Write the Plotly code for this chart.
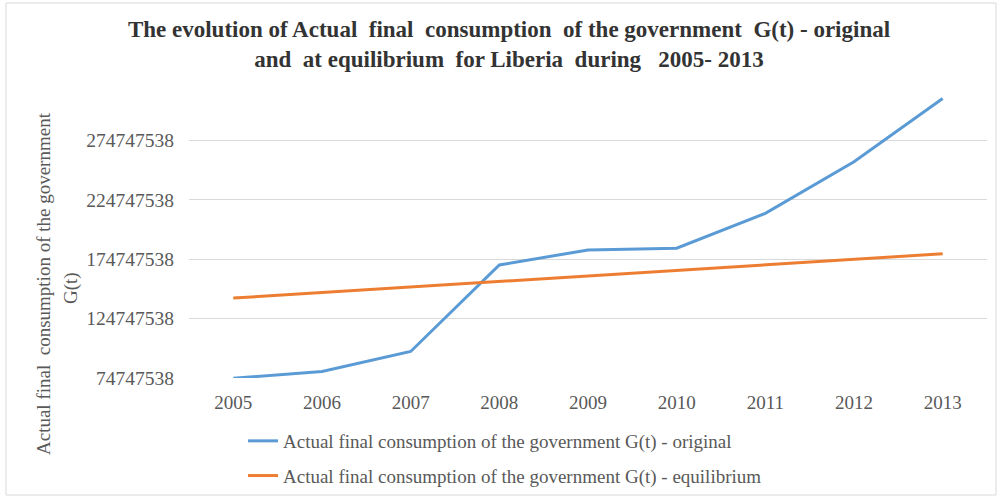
import plotly.graph_objects as go

years = ["2005", "2006", "2007", "2008", "2009", "2010", "2011", "2012", "2013"]
g_original = [74500000, 80300000, 97100000, 169900000, 182500000, 184000000, 213400000, 256700000, 310000000]
g_equilibrium = [142000000, 146700000, 151300000, 156000000, 160600000, 165200000, 169800000, 174600000, 179300000]
y_ticks = [74747538, 124747538, 174747538, 224747538, 274747538]

serif = "Liberation Serif"
grey = "#595959"

fig = go.Figure()
fig.add_trace(go.Scatter(
    x=years, y=g_original, mode="lines",
    name="Actual final consumption of the government G(t) - original",
    line=dict(color="#5B9BD5", width=3),
    legendgroup="a"
))
fig.add_trace(go.Scatter(
    x=years, y=g_equilibrium, mode="lines",
    name="Actual final consumption of the government G(t) - equilibrium",
    line=dict(color="#ED7D31", width=3),
    legendgroup="b"
))

fig.update_layout(
    width=998, height=499,
    # legend sits below the plot; keep it from pushing the margins
    margin=dict(l=189, r=11, t=81, b=121, autoexpand=False),
    paper_bgcolor="white", plot_bgcolor="white",
    title=dict(
        text="The evolution of Actual  final  consumption  of the government  G(t) - original<br>and  at equilibrium  for Liberia  during   2005- 2013",
        x=509 / 998, xanchor="center", y=1 - 37 / 499, yanchor="middle",
        font=dict(family=serif, size=23, color="#333333", weight="bold"),
    ),
    font=dict(family=serif, color=grey),
    showlegend=True,
    legend=dict(
        x=(243 - 189) / 798, xanchor="left",
        y=(378 - 422) / 297, yanchor="top",
        font=dict(family=serif, size=19, color=grey),
        tracegroupgap=7,
        bgcolor="rgba(0,0,0,0)",
    ),
)

fig.update_xaxes(
    type="category", range=[-0.5, 8.5],
    showgrid=False, showline=False, zeroline=False, ticks="",
    tickfont=dict(family=serif, size=19, color=grey),
    ticklabelstandoff=11,
)
fig.update_yaxes(
    range=[74747538, 324747538],
    tickvals=y_ticks, ticktext=[str(v) for v in y_ticks],
    showgrid=True, gridcolor="#d9d9d9", gridwidth=1,
    zeroline=False, showline=False, ticks="",
    tickfont=dict(family=serif, size=19.5, color=grey),
    ticklabelstandoff=14,
)

# axis title, two lines placed separately
fig.add_annotation(
    text="Actual final  consumption of the government", textangle=-90,
    xref="paper", yref="paper", x=(43 - 189) / 798, y=(378 - 284) / 297,
    xanchor="center", yanchor="middle",
    showarrow=False, font=dict(family=serif, size=19, color=grey),
)
fig.add_annotation(
    text="G(t)", textangle=-90,
    xref="paper", yref="paper", x=(71 - 189) / 798, y=(378 - 288) / 297,
    xanchor="center", yanchor="middle",
    showarrow=False, font=dict(family=serif, size=19, color=grey),
)

# outer frame of the chart
fig.add_shape(
    type="rect", xref="paper", yref="paper",
    x0=(6 - 189) / 798, x1=(996 - 189) / 798,
    y0=(378 - 495) / 297, y1=(378 - 3) / 297,
    line=dict(color="#d9d9d9", width=1), layer="below",
)

# page body has a default margin, drop it so the figure fills the window
fig.write_html(
    "out.html",
    config={"displayModeBar": False},
    post_script="document.body.style.margin='0';",
)
